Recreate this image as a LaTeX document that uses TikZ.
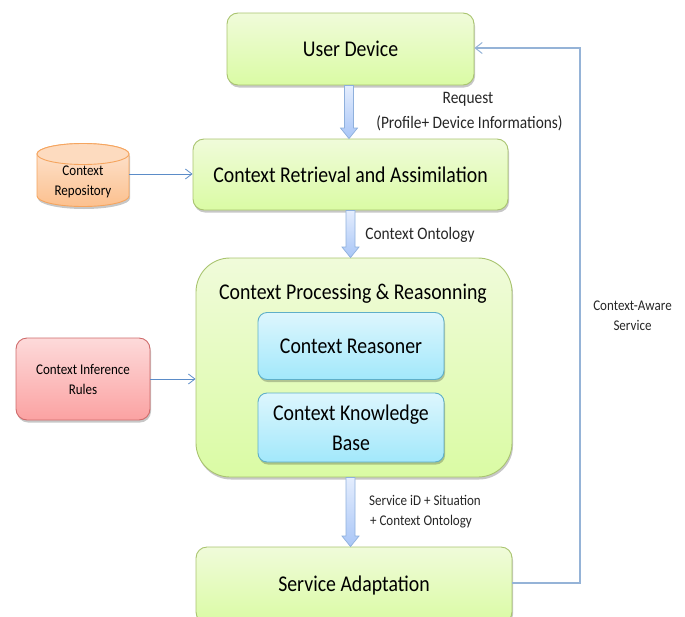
\documentclass[tikz,border=0pt]{standalone}
\usepackage{fontspec}
\setmainfont[FakeStretch=0.88]{Carlito}
\usetikzlibrary{arrows.meta,shadows,calc}
\definecolor{gA}{HTML}{F0FBDA}\definecolor{gB}{HTML}{DAFBA4}\definecolor{gE}{HTML}{A9C46F}
\definecolor{bA}{HTML}{DDF6FD}\definecolor{bB}{HTML}{A2E8FB}\definecolor{bE}{HTML}{5FAFC8}
\definecolor{rA}{HTML}{FDDADA}\definecolor{rB}{HTML}{FBA2A2}\definecolor{rE}{HTML}{CF6B6B}
\definecolor{oA}{HTML}{FDE6D4}\definecolor{oB}{HTML}{FCC08E}\definecolor{oE}{HTML}{F5A55F}
\definecolor{lineblue}{HTML}{5B8CC8}\definecolor{lineB}{HTML}{95B3D7}
\definecolor{arrA}{HTML}{E4EDFD}\definecolor{arrB}{HTML}{A9C6F7}\definecolor{arrE}{HTML}{8FB0DC}
\tikzset{
  x=1pt,y=-1pt,
  softshadow/.style={drop shadow={shadow xshift=1pt,shadow yshift=-2.5pt,fill=black,opacity=.22}},
  panel/.style={draw=#1E,line width=.9pt,top color=#1A,bottom color=#1B,rounded corners=11pt,softshadow,align=center,inner sep=0pt,text=black},
  greenbox/.style={panel=g,font=\fontsize{22.5}{28}\selectfont},
  bluebox/.style={panel=b,font=\fontsize{22.5}{30}\selectfont,rounded corners=9pt},
  redbox/.style={panel=r,font=\fontsize{14.8}{20}\selectfont},
  cylbody/.style={draw=oE,line width=.9pt,top color=oA,bottom color=oB,softshadow},
  thin arrow/.style={draw=lineblue,line width=.8pt,-{Straight Barb[length=6.5pt,width=10pt,line width=.8pt]}},
  feedback/.style={draw=lineB,line width=1.1pt,-{Straight Barb[length=7pt,width=11pt,line width=1pt]}},
  blockarrow/.style={draw=arrE,line width=.7pt,top color=arrA,bottom color=arrB,line join=miter},
  lab/.style={inner sep=0pt,align=center,text=black!85,font=\fontsize{17.5}{24}\selectfont},
  smalllab/.style={inner sep=0pt,align=left,text=black!85,font=\fontsize{14.8}{20}\selectfont},
}
\newcommand{\blockarr}[2]{%
  \path[blockarrow] let \p1=(#1), \p2=(#2) in
    (\x1-4.5pt,\y1) -- (\x1+4.5pt,\y1) -- (\x1+4.5pt,\y2+10.5pt) -- (\x1+8.5pt,\y2+10.5pt)
    -- (\x1,\y2) -- (\x1-8.5pt,\y2+10.5pt) -- (\x1-4.5pt,\y2+10.5pt) -- cycle;}
\begin{document}
\begin{tikzpicture}
\useasboundingbox (0,0) rectangle (685,616);
\clip (0,0) rectangle (685,616);
\node[greenbox,minimum width=247pt,minimum height=72pt] (user) at (350.5,49) {User Device};
\node[greenbox,minimum width=315pt,minimum height=71pt] (retr) at (350.5,174.5) {Context Retrieval and Assimilation};
\node[panel=g,rounded corners=34pt,minimum width=316pt,minimum height=219pt] (proc) at (354,367.5) {};
\node[inner sep=0pt,font=\fontsize{22.5}{28}\selectfont] (proct) at (353,293.5) {Context Processing \& Reasonning};
\node[bluebox,minimum width=186pt,minimum height=67pt] (reas) at (351,346) {Context Reasoner};
\node[bluebox,minimum width=186pt,minimum height=69pt] (kb) at (351,427.5) {Context Knowledge\\Base};
\node[greenbox,minimum width=316pt,minimum height=76pt] (serv) at (354,585) {Service Adaptation};
\node[redbox,minimum width=134pt,minimum height=82pt] (rules) at (83,379) {Context Inference\\Rules};
% cylinder
\path[cylbody] (37,154) -- (37,196) arc[start angle=180,end angle=360,x radius=46pt,y radius=10.5pt] -- (129,154) arc[start angle=0,end angle=180,x radius=46pt,y radius=10.5pt] -- cycle;
\fill[oA!70!oB,draw=oE,line width=.9pt] (83,154) circle [x radius=46pt,y radius=10.5pt];
\node[inner sep=0pt,minimum width=92pt,minimum height=64pt,align=center,font=\fontsize{14.8}{20}\selectfont] (repo) at (83,182) {Context\\Repository};

\coordinate (c1a) at ($(user.south)+(-1.5,0)$);
\coordinate (c1b) at ($(retr.north)+(-1.5,0)$);
\blockarr{c1a}{c1b}
\blockarr{retr.south}{proc.north -| retr.south}
\coordinate (c3a) at (proc.south -| retr.south);
\coordinate (c3b) at (serv.north -| retr.south);
\blockarr{c3a}{c3b}

\draw[thin arrow] (repo.east |- 0,174) -- (retr.west |- 0,174);
\draw[thin arrow] (rules.east) -- (proc.west |- rules.east);
\draw[feedback] (serv.east |- 0,583) -- (580,583) -- (580,48) -- (user.east |- 0,48);

\node[lab] (l1) at (468,99.5) {Request};
\node[lab] (l2) at (469.5,123) {(Profile+ Device Informations)};
\node[lab] (l3) at (420,235) {Context Ontology};
\node[smalllab] (l4) at (425,500) {Service iD + Situation};
\node[smalllab] (l5) at (421,521.5) {+ Context Ontology};
\node[smalllab,align=center] (l6) at (632.5,316) {Context-Aware\\Service};
\end{tikzpicture}
\end{document}
